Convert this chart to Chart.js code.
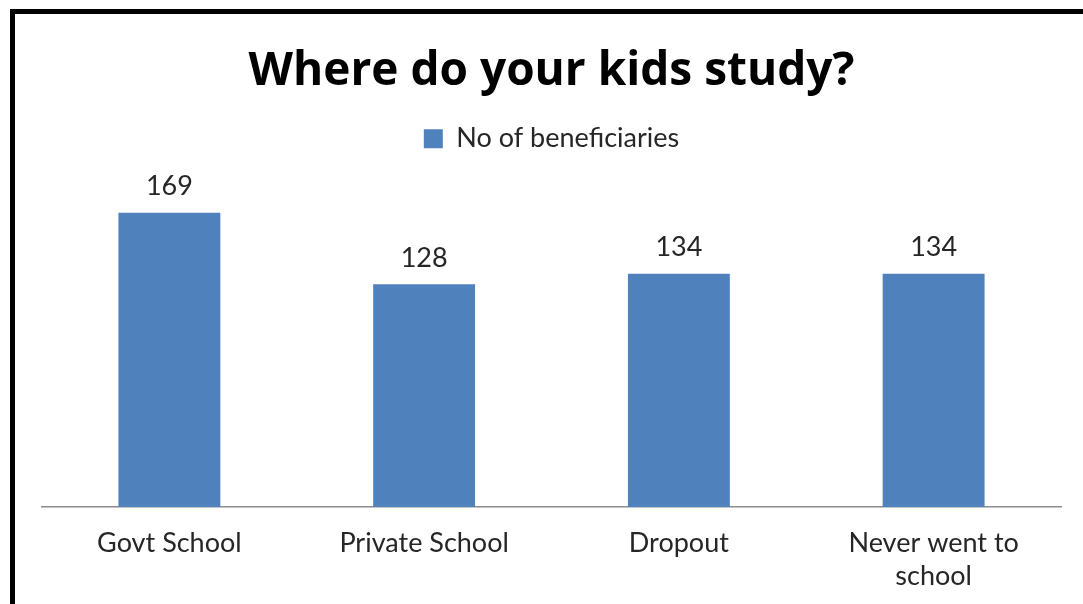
<!DOCTYPE html>
<html lang="en">
<head>
    <meta charset="UTF-8">
    <title>Where do your kids study?</title>
    <script src="https://cdn.jsdelivr.net/npm/chart.js"></script>
    <style>
        html, body {
            margin: 0;
            padding: 0;
            background: #fff;
            overflow: hidden;
        }
        #frame {
            position: absolute;
            left: 10px;
            top: 9px;
            width: 1083px;
            height: 604px;
            border-left: 5px solid #000;
            border-top: 5px solid #000;
            pointer-events: none;
        }
        #chart-container {
            position: absolute;
            left: 0;
            top: 0;
            width: 1083px;
            height: 604px;
        }
    </style>
</head>
<body>
    <div id="chart-container">
        <canvas id="kidsChart" width="1083" height="604"></canvas>
    </div>
    <div id="frame"></div>

    <script>
        const categories = ['Govt School', 'Private School', 'Dropout', ['Never went to', 'school']];
        const beneficiaries = [169, 128, 134, 134];
        const seriesName = 'No of beneficiaries';

        const barColor = '#4F81BD';
        const textColor = '#262626';

        // value above every bar
        const valueLabels = {
            id: 'valueLabels',
            afterDatasetsDraw(chart) {
                const ctx = chart.ctx;
                ctx.save();
                ctx.font = '27px Lato';
                ctx.fillStyle = textColor;
                ctx.textAlign = 'center';
                ctx.textBaseline = 'middle';
                chart.getDatasetMeta(0).data.forEach((bar, i) => {
                    ctx.fillText(beneficiaries[i], bar.x, bar.y - 26);
                });
                ctx.restore();
            }
        };

        const ctx = document.getElementById('kidsChart').getContext('2d');
        new Chart(ctx, {
            type: 'bar',
            data: {
                labels: categories,
                datasets: [{
                    label: seriesName,
                    data: beneficiaries,
                    backgroundColor: barColor,
                    borderWidth: 0,
                    categoryPercentage: 1,
                    barPercentage: 0.4
                }]
            },
            options: {
                responsive: false,
                animation: false,
                layout: {
                    padding: { left: 42, right: 22, top: 44, bottom: -9 }
                },
                plugins: {
                    title: {
                        display: true,
                        text: 'Where do your kids study?',
                        color: '#000',
                        font: { family: 'Open Sans', size: 46, weight: 'bold', lineHeight: 1.2 },
                        padding: { top: 0, bottom: 18 }
                    },
                    legend: {
                        display: true,
                        labels: {
                            color: textColor,
                            font: { family: 'Lato', size: 27 },
                            boxWidth: 19,
                            boxHeight: 19,
                            padding: 8
                        }
                    },
                    tooltip: { enabled: false }
                },
                scales: {
                    x: {
                        grid: { display: false, drawTicks: false },
                        border: { display: true, color: '#8C8C8C', width: 1.5 },
                        ticks: {
                            color: textColor,
                            font: { family: 'Lato', size: 27, lineHeight: 1.22 },
                            padding: 20,
                            maxRotation: 0
                        }
                    },
                    y: {
                        display: false,
                        min: 0,
                        max: 198
                    }
                }
            },
            plugins: [valueLabels]
        });
    </script>
</body>
</html>
